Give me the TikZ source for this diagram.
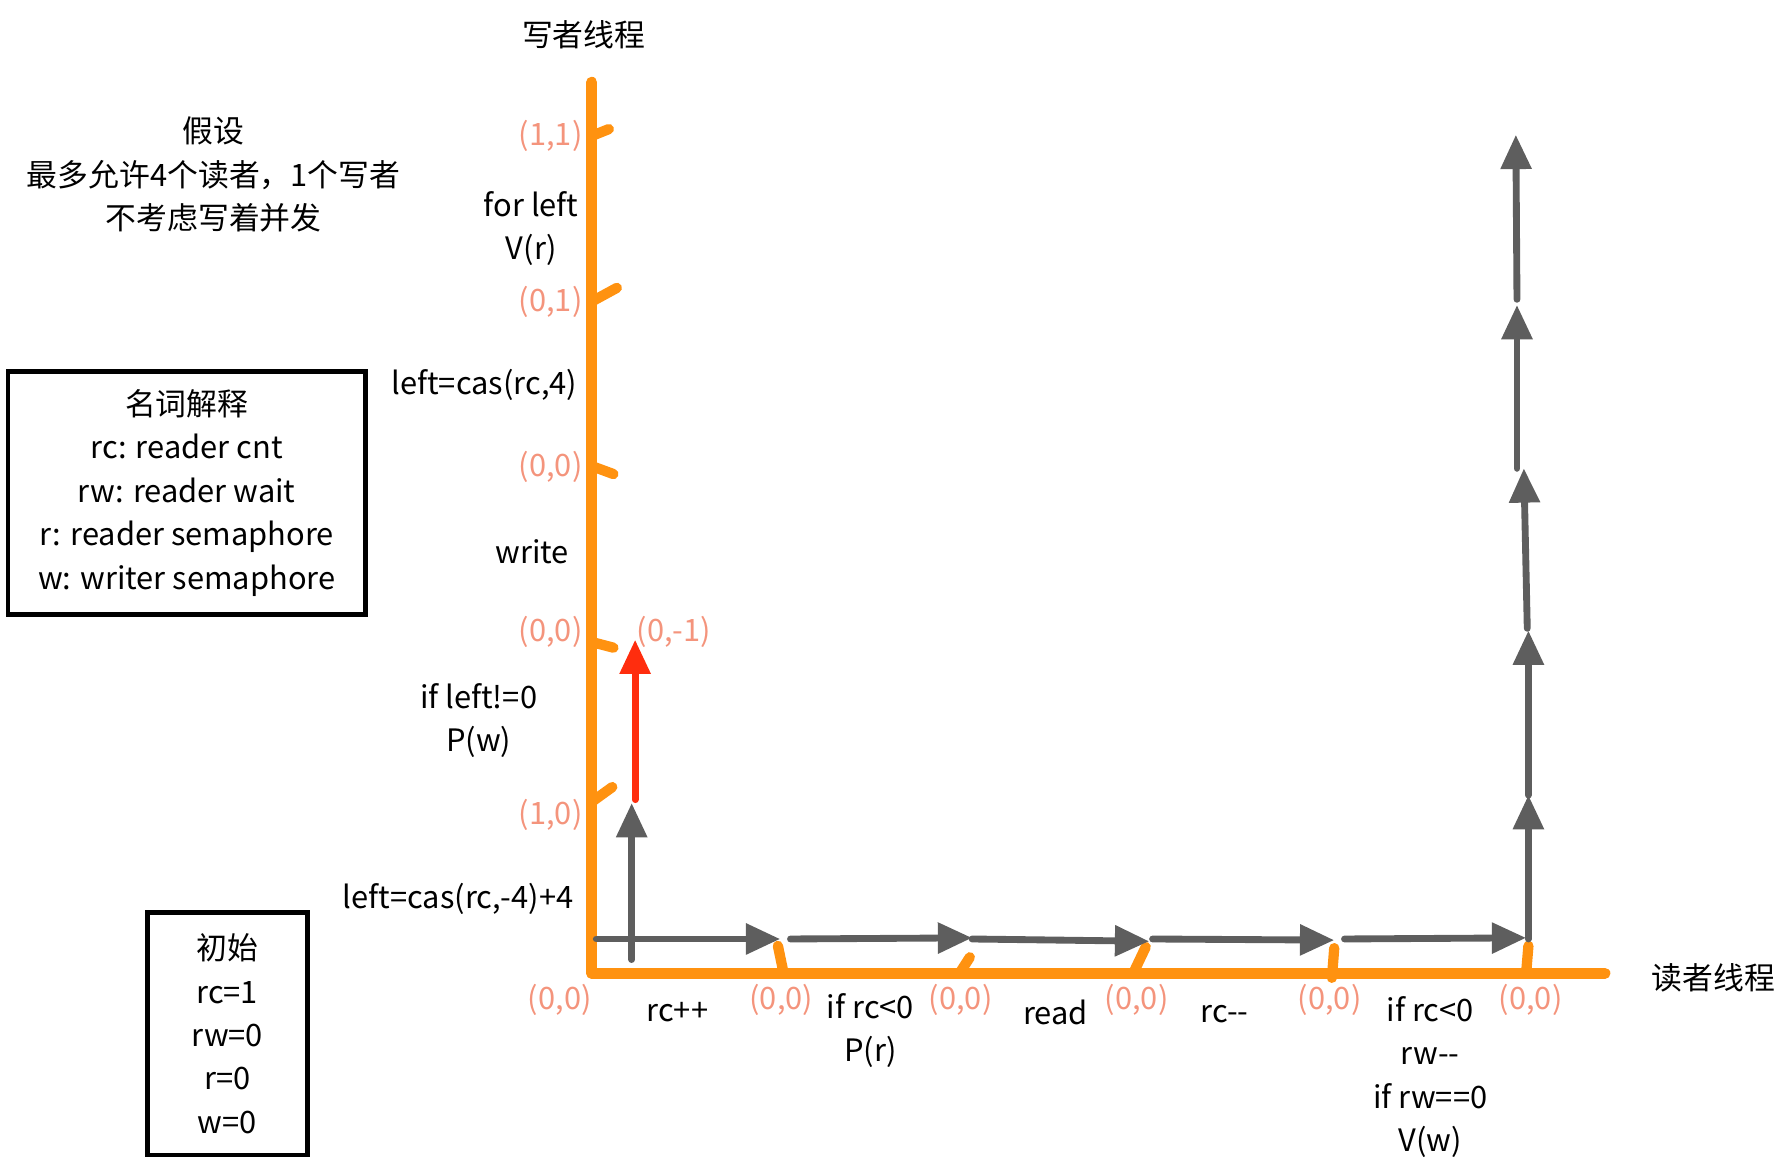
\documentclass[tikz,border=0pt]{standalone}
\usepackage{fontspec}
\setmainfont{Noto Sans CJK SC}
\usepackage{tikz}
\usetikzlibrary{arrows.meta}

\definecolor{axisorange}{HTML}{FF9210}
\definecolor{flowgray}{HTML}{5E5E5E}
\definecolor{blockred}{HTML}{FF2D0E}
\definecolor{statesalmon}{HTML}{F4947C}

\tikzset{
  every node/.style={font=\fontsize{13.5}{19}\selectfont,align=center,inner sep=0pt},
  axisline/.style={draw=axisorange,line width=4.8pt,line cap=round,line join=round},
  tickmark/.style={draw=axisorange,line width=4.5pt,line cap=round},
  flow/.style={draw=flowgray,line width=3pt,line cap=round,-{Triangle[length=15pt,width=13pt]}},
  blocked/.style={flow,draw=blockred},
  state/.style={text=statesalmon},
  notebox/.style={draw=black,line width=2pt}
}

\begin{document}
\begin{tikzpicture}[x=0.5pt,y=-0.5pt]
      % units are pixels of the sketch, y grows downwards
      \useasboundingbox (0,0) rectangle (1560,1024);
      \node (wtitle) at (511,30) {写者线程};
      \node (rtitle) at (1500,856) {读者线程};
      \node (assume) at (187,153) {假设\\最多允许4个读者，1个写者\\不考虑写着并发};
      \node[notebox,minimum width=156.5pt,minimum height=106.5pt] (gloss) at (163.5,431.5)
        {名词解释\\rc: reader cnt\\rw: reader wait\\r: reader semaphore\\w: writer semaphore};
      \node[notebox,minimum width=70pt,minimum height=106pt] (init) at (199,905)
        {初始\\rc=1\\rw=0\\r=0\\w=0};
      % the two thread axes
      \coordinate (O) at (518,852);
      \coordinate (wtop) at (518,72);
      \coordinate (rend) at (1405,852);
      \draw[axisline] (wtop) -- (O) -- (rend);
      \draw[tickmark] (518,119) -- (533,113);
      \draw[tickmark] (518,264) -- (540,252);
      \draw[tickmark] (518,408) -- (537,415);
      \draw[tickmark] (518,562) -- (537,567);
      \draw[tickmark] (518,702) -- (536,689);
      \draw[tickmark] (681,828) -- (686,852);
      \draw[tickmark] (849,838) -- (840,852);
      \draw[tickmark] (1003,829) -- (993,850);
      \draw[tickmark] (1168,830) -- (1166,856);
      \draw[tickmark] (1338,828) -- (1336,852);
      % states on the writer axis
      \node[state] (w11) at (482,119) {(1,1)};
      \node[state] (w01) at (482,264) {(0,1)};
      \node[state] (w00a) at (482,409) {(0,0)};
      \node[state] (w00b) at (482,553) {(0,0)};
      \node[state] (w10) at (482,713) {(1,0)};
      \node[state] (wm1) at (590,553) {(0,-1)};
      % states on the reader axis
      \node[state] (r0) at (490,875) {(0,0)};
      \node[state] (r1) at (684,875) {(0,0)};
      \node[state] (r2) at (841,875) {(0,0)};
      \node[state] (r3) at (995,875) {(0,0)};
      \node[state] (r4) at (1164,875) {(0,0)};
      \node[state] (r5) at (1340,875) {(0,0)};
      % steps of the writer
      \node (forleft) at (465,200) {for left\\V(r)};
      \node (casup) at (424,337) {left=cas(rc,4)};
      \node (write) at (466,483) {write};
      \node (waitw) at (419,631) {if left!=0\\P(w)};
      \node (casdown) at (401,787) {left=cas(rc,-4)+4};
      % steps of the reader
      \node (inc) at (593,886) {rc++};
      \node (waitr) at (762,902) {if rc<0\\P(r)};
      \node (read) at (924,886) {read};
      \node (dec) at (1072,888) {rc-{}-};
      \node (wake) at (1252,943) {if rc<0\\rw-{}-\\if rw==0\\V(w)};
      % reader path
      \coordinate (h0) at (522,822);
      \coordinate (h1) at (683,822);
      \coordinate (h1s) at (692,822);
      \coordinate (h2) at (851,821);
      \coordinate (h2s) at (851,822);
      \coordinate (h3) at (1006,824);
      \coordinate (h3s) at (1009,822);
      \coordinate (h4) at (1168,823);
      \coordinate (h4s) at (1177,822);
      \coordinate (h5) at (1336,821);
      \draw[flow] (h0) -- (h1);
      \draw[flow] (h1s) -- (h2);
      \draw[flow] (h2s) -- (h3);
      \draw[flow] (h3s) -- (h4);
      \draw[flow] (h4s) -- (h5);
      % writer path on the right
      \coordinate (v0) at (1338,822);
      \coordinate (v1) at (1338,696);
      \coordinate (v2) at (1338,552);
      \coordinate (v2s) at (1337,550);
      \coordinate (v3) at (1334,410);
      \coordinate (v3s) at (1328,410);
      \coordinate (v4) at (1328,267);
      \coordinate (v4s) at (1328,262);
      \coordinate (v5) at (1327,118);
      \draw[flow] (v0) -- (v1);
      \draw[flow] (v1) -- (v2);
      \draw[flow] (v2s) -- (v3);
      \draw[flow] (v3s) -- (v4);
      \draw[flow] (v4s) -- (v5);
      % writer blocked near the origin
      \coordinate (g0) at (553,840);
      \coordinate (g1) at (553,703);
      \coordinate (b0) at (556,700);
      \coordinate (b1) at (556,560);
      \draw[flow] (g0) -- (g1);
      \draw[blocked] (b0) -- (b1);
    \end{tikzpicture}
\end{document}
